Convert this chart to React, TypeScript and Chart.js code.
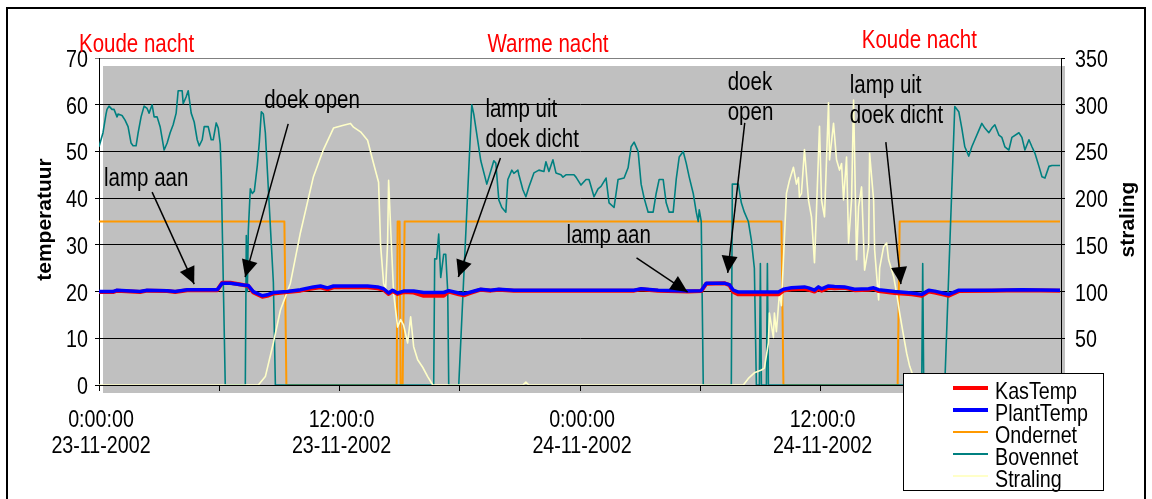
import React, { useEffect, useRef } from "react";
import { Chart, registerables } from "chart.js";

Chart.register(...registerables);

const FONT = "'Liberation Sans', Arial, sans-serif";
const NARROW = 0.82; // horizontal squeeze to mimic the condensed face of the original

// ---- time axis (hours since 0:00 23-11-2002) ----
const xTickHours = [0, 12, 24, 36];
const xTickTimes = ["0:00:00", "12:00:0", "0:00:00", "12:00:0"];
const xTickDates = ["23-11-2002", "23-11-2002", "24-11-2002", "24-11-2002"];

// ---- KasTemp / PlantTemp (°C) ----
const tempHours = [0, 0.7, 0.9, 2.05, 2.4, 3.4, 3.8, 4.4, 5.9, 6.15, 6.55, 7.2, 7.45, 7.7, 8.15, 8.4, 8.7, 9.4, 10.05, 10.7, 11.05, 11.4, 11.7, 13.4, 13.9, 14.2, 14.45, 14.65, 14.9, 15.2, 15.7, 16.2, 17.2, 17.45, 17.95, 18.2, 18.55, 19.05, 19.55, 19.95, 20.7, 22.7, 24.55, 26.7, 27.05, 27.9, 29.4, 30.05, 30.3, 31.2, 31.45, 31.65, 31.9, 33.9, 34.15, 34.55, 35.2, 35.4, 35.7, 35.9, 36.05, 36.4, 36.7, 37.2, 37.7, 38.4, 38.65, 38.9, 39.7, 40.55, 41.05, 41.4, 41.7, 42.2, 42.4, 42.9, 44.55, 46.05, 47.95];
const plantTemp = [20.0, 20.0, 20.3, 20.0, 20.3, 20.2, 20.0, 20.4, 20.4, 21.8, 21.8, 21.4, 21.3, 20.0, 19.1, 19.3, 19.8, 20.0, 20.4, 21.0, 21.2, 20.8, 21.2, 21.2, 21.0, 20.6, 19.7, 20.3, 19.7, 20.1, 20.1, 19.8, 19.8, 20.2, 19.7, 19.5, 19.9, 20.5, 20.3, 20.5, 20.3, 20.3, 20.3, 20.3, 20.6, 20.3, 20.1, 20.2, 21.8, 21.8, 21.5, 20.3, 19.9, 19.9, 20.5, 20.8, 21.0, 20.8, 20.3, 21.0, 20.6, 21.2, 21.1, 21.0, 20.5, 20.6, 20.8, 20.4, 20.0, 19.7, 19.4, 20.3, 20.1, 19.6, 19.4, 20.3, 20.3, 20.4, 20.3];
const kasTemp = [19.9, 19.9, 20.2, 19.9, 20.2, 20.1, 19.9, 20.3, 20.3, 21.9, 21.9, 21.4, 21.2, 19.8, 18.9, 19.1, 19.6, 19.9, 20.2, 20.7, 20.9, 20.5, 20.9, 20.9, 20.7, 20.4, 19.5, 20.1, 19.5, 19.9, 19.8, 19.1, 19.1, 20.0, 19.4, 19.2, 19.7, 20.4, 20.2, 20.4, 20.2, 20.2, 20.2, 20.2, 20.5, 20.2, 20.0, 20.1, 21.7, 21.8, 21.4, 19.9, 19.4, 19.4, 20.2, 20.5, 20.6, 20.4, 20.0, 20.6, 20.2, 20.8, 20.7, 20.8, 20.3, 20.4, 20.6, 20.1, 19.7, 19.4, 19.1, 20.0, 19.8, 19.3, 19.1, 20.1, 20.2, 20.3, 20.2];

// ---- Ondernet ----
const ondernetHours = [0, 9.25, 9.35, 14.85, 14.9, 15.0, 15.05, 15.15, 15.25, 34.05, 34.15, 39.85, 39.95, 47.95];
const ondernet = [35, 35, 0, 0, 35, 35, 0, 0, 35, 35, 0, 0, 35, 35];

// ---- Bovennet ----
const bovennetHours = [0, 0.2, 0.35, 0.4, 0.5, 0.65, 0.75, 0.9, 0.95, 1.15, 1.3, 1.45, 1.6, 1.7, 1.85, 1.95, 2.1, 2.25, 2.4, 2.5, 2.65, 2.75, 2.9, 3.05, 3.25, 3.4, 3.55, 3.7, 3.85, 3.95, 4.15, 4.2, 4.35, 4.45, 4.6, 4.75, 4.9, 5.0, 5.15, 5.25, 5.45, 5.6, 5.7, 5.85, 5.95, 6.05, 6.1, 6.3, 7.3, 7.35, 7.4, 7.45, 7.55, 7.65, 7.75, 7.9, 8.0, 8.1, 8.2, 8.3, 8.45, 8.6, 8.7, 8.8, 16.7, 16.75, 16.85, 16.95, 17.05, 17.2, 17.3, 17.4, 17.45, 17.95, 18.6, 18.7, 19.05, 19.35, 19.7, 19.8, 19.95, 20.1, 20.3, 20.4, 20.6, 20.7, 20.9, 20.95, 21.15, 21.3, 21.45, 21.7, 21.95, 22.2, 22.3, 22.45, 22.65, 22.8, 23.05, 23.15, 23.3, 23.7, 23.8, 24.05, 24.3, 24.45, 24.7, 24.9, 25.05, 25.3, 25.45, 25.7, 25.9, 26.2, 26.4, 26.55, 26.7, 26.9, 27.05, 27.2, 27.4, 27.65, 27.8, 27.95, 28.15, 28.3, 28.45, 28.65, 28.8, 28.95, 29.15, 29.3, 29.45, 29.65, 29.8, 29.9, 29.95, 30.05, 30.15, 31.55, 31.6, 31.9, 32.05, 32.2, 32.4, 32.55, 32.7, 32.8, 32.95, 33.0, 33.05, 33.3, 33.35, 33.4, 41.05, 41.1, 41.15, 42.2, 42.7, 42.9, 43.05, 43.2, 43.4, 43.55, 43.7, 43.9, 44.05, 44.2, 44.4, 44.55, 44.7, 44.9, 45.05, 45.2, 45.4, 45.55, 45.9, 46.05, 46.2, 46.4, 46.55, 46.7, 46.9, 47.05, 47.2, 47.4, 47.55, 47.95];
const bovennet = [51, 54, 58, 59, 59.7, 59, 59, 57.4, 58, 57.7, 56.7, 55.3, 51.8, 51.2, 51.2, 53.9, 57.4, 59.7, 59.2, 58.2, 60, 57.4, 57.4, 55.3, 50.3, 51.8, 54, 55.7, 58.2, 63, 63, 60.2, 61.7, 63, 58.2, 56.3, 52.5, 51.2, 52.5, 55.3, 55.3, 52.5, 52.5, 56.1, 55, 51.5, 45, 0, 0, 32, 20, 33, 42, 41, 41.5, 47, 52, 58.5, 58, 54, 42, 30, 22, 0, 0, 27, 27, 32.3, 23, 28, 28, 20, 0, 0, 60, 58, 48, 43, 48, 47.5, 39.6, 38, 37, 44, 46, 45.3, 46, 45, 41.8, 40.3, 42.4, 45.4, 46, 45.7, 47.8, 45.7, 48.2, 45.4, 45, 44.5, 45, 45, 44.5, 42.8, 44, 44, 40.3, 42, 42.5, 44.3, 39, 38, 44, 44.3, 46.5, 51, 52, 50, 43, 40, 37, 37, 41, 44, 44, 39, 37, 37, 44, 48.8, 50, 47.5, 44.5, 41, 37, 35, 37.5, 35, 0, 0, 43, 43, 39, 37, 35, 31, 25, 0, 0, 26, 0, 0, 26, 0, 0, 26, 0, 0, 59.6, 58.5, 55, 51, 49, 51, 52.5, 54.5, 56, 55, 54, 55, 55.7, 53.5, 53, 51, 50.3, 53, 54, 53, 50.3, 52.5, 51, 49.6, 46.8, 44.6, 44.3, 46.8, 47, 47];

// ---- Straling (right axis) ----
const stralingHours = [0, 7.95, 8.3, 8.7, 9.05, 9.55, 10.05, 10.45, 10.7, 11.2, 11.7, 12.2, 12.55, 12.7, 13.05, 13.4, 13.7, 13.95, 14.05, 14.2, 14.3, 14.4, 14.45, 14.55, 14.7, 14.9, 15.05, 15.2, 15.4, 15.55, 15.7, 15.9, 16.15, 16.4, 16.65, 21.15, 21.3, 21.45, 32.15, 32.4, 32.7, 33.05, 33.2, 33.4, 33.45, 33.65, 33.7, 33.8, 33.95, 34.05, 34.15, 34.3, 34.45, 34.65, 34.8, 34.9, 34.95, 35.05, 35.2, 35.4, 35.55, 35.7, 35.8, 35.95, 36.05, 36.2, 36.4, 36.45, 36.65, 36.8, 36.95, 37.05, 37.15, 37.3, 37.4, 37.55, 37.65, 37.8, 37.9, 38.05, 38.2, 38.4, 38.45, 38.65, 38.7, 38.9, 38.95, 39.15, 39.3, 39.4, 39.65, 39.8, 39.95, 40.15, 40.3, 40.45, 40.7, 40.95, 47.95];
const straling = [0, 0, 9, 45, 80, 109, 163, 200, 223, 252, 275, 278, 280, 276, 271, 262, 237, 217, 150, 109, 102, 152, 219, 169, 98, 62, 70, 64, 45, 73, 41, 27, 19, 9, 0, 0, 3, 0, 0, 7, 13, 16, 18, 45, 77, 51, 77, 57, 98, 85, 134, 205, 219, 233, 215, 222, 201, 205, 252, 198, 180, 131, 187, 277, 198, 180, 302, 241, 280, 241, 230, 237, 198, 244, 152, 198, 305, 134, 191, 212, 123, 148, 248, 198, 145, 91, 125, 148, 152, 134, 116, 98, 77, 52, 34, 20, 5, 0, 0];

// ---- text annotations (anchored in data coordinates: hours, °C) ----
const periodLabels = ["Koude nacht", "Warme nacht", "Koude nacht"];
const periodHours = [-1.0, 19.38, 38.06];
const periodTemps = [71.3, 71.3, 72.2];

const notes = [
  { lines: ["lamp aan"], h: 0.25, t: 42.6, from: [2.65, 41.3], to: [4.75, 21.6] },
  { lines: ["doek open"], h: 8.24, t: 59.3, from: [9.44, 55.9], to: [7.29, 23.1] },
  { lines: ["lamp uit", "doek dicht"], h: 19.28, t: 57.4, from: [20.03, 48.6], to: [17.93, 23.1] },
  { lines: ["lamp aan"], h: 23.33, t: 30.4, from: [26.82, 27.2], to: [29.37, 19.9] },
  { lines: ["doek", "open"], h: 31.37, t: 63.2, from: [32.22, 56.1], to: [31.37, 24.0] },
  { lines: ["lamp uit", "doek dicht"], h: 37.46, t: 62.5, from: [39.26, 52.0], to: [40.01, 21.6] },
];

const zip = (xs: number[], ys: number[]) => xs.map((x, i) => ({ x, y: ys[i] }));

function narrowText(ctx: CanvasRenderingContext2D, text: string, x: number, y: number, align: CanvasTextAlign, size: number, color = "#000") {
  ctx.save();
  ctx.translate(x, y);
  ctx.scale(NARROW, 1);
  ctx.font = `${size}px ${FONT}`;
  ctx.fillStyle = color;
  ctx.textAlign = align;
  ctx.textBaseline = "alphabetic";
  ctx.fillText(text, 0, 0);
  ctx.restore();
}

function drawArrow(ctx: CanvasRenderingContext2D, x1: number, y1: number, x2: number, y2: number) {
  ctx.beginPath();
  ctx.moveTo(x1, y1);
  ctx.lineTo(x2, y2);
  ctx.stroke();
  const a = Math.atan2(y2 - y1, x2 - x1);
  const L = 17, W = 8;
  const c = Math.cos(a), s = Math.sin(a);
  ctx.beginPath();
  ctx.moveTo(x2, y2);
  ctx.lineTo(x2 - L * c + W * s, y2 - L * s - W * c);
  ctx.lineTo(x2 - L * c - W * s, y2 - L * s + W * c);
  ctx.closePath();
  ctx.fill();
}

const decor = {
  id: "decor",
  beforeDraw(chart: any) {
    const { ctx, chartArea: a } = chart;
    ctx.save();
    ctx.fillStyle = "#ffffff";
    ctx.fillRect(0, 0, chart.width, chart.height);
    ctx.fillStyle = "#C0C0C0";
    ctx.fillRect(a.left + 4, a.top + 8, a.right - a.left, a.bottom - a.top);
    ctx.restore();
  },
  afterDraw(chart: any) {
    const { ctx, chartArea: a, scales } = chart;
    const xs = scales.x, ys = scales.y, ys2 = scales.y2;
    ctx.save();
    // outer frame
    ctx.strokeStyle = "#000";
    ctx.lineWidth = 2;
    ctx.strokeRect(7, 8, 1138, 600);

    // tick labels
    ys.ticks.forEach((t: any) => {
      narrowText(ctx, String(t.value), a.left - 11, ys.getPixelForValue(t.value) + 9, "right", 24);
    });
    ys2.ticks.forEach((t: any) => {
      narrowText(ctx, String(t.value), a.right + 14, ys2.getPixelForValue(t.value) + 9, "left", 24);
    });
    xTickHours.forEach((h, i) => {
      const px = xs.getPixelForValue(h) + 2;
      narrowText(ctx, xTickTimes[i], px, a.bottom + 42, "center", 24);
      narrowText(ctx, xTickDates[i], px, a.bottom + 68, "center", 24);
    });

    // period labels
    periodLabels.forEach((t, i) => {
      narrowText(ctx, t, xs.getPixelForValue(periodHours[i]), ys.getPixelForValue(periodTemps[i]), "left", 25, "#FF0000");
    });

    // axis titles
    ctx.fillStyle = "#000";
    ctx.font = `bold 21px ${FONT}`;
    ctx.textAlign = "center";
    ctx.textBaseline = "middle";
    const cy = (a.top + a.bottom) / 2 - 2;
    ctx.save();
    ctx.translate(a.left - 54, cy);
    ctx.rotate(-Math.PI / 2);
    ctx.fillText("temperatuur", 0, 0);
    ctx.restore();
    ctx.save();
    ctx.translate(a.right + 67, cy);
    ctx.rotate(-Math.PI / 2);
    ctx.fillText("straling", 0, 0);
    ctx.restore();

    // notes + arrows
    ctx.strokeStyle = "#000";
    ctx.fillStyle = "#000";
    ctx.lineWidth = 1.5;
    notes.forEach((n) => {
      const x = xs.getPixelForValue(n.h);
      const y = ys.getPixelForValue(n.t);
      n.lines.forEach((l, i) => narrowText(ctx, l, x, y + i * 30, "left", 25));
      drawArrow(
        ctx,
        xs.getPixelForValue(n.from[0]), ys.getPixelForValue(n.from[1]),
        xs.getPixelForValue(n.to[0]), ys.getPixelForValue(n.to[1])
      );
    });

    // legend
    const lx = 903, ly = 373, lw = 200, lh = 117;
    ctx.fillStyle = "#fff";
    ctx.fillRect(lx, ly, lw, lh);
    ctx.strokeStyle = "#000";
    ctx.lineWidth = 1;
    ctx.strokeRect(lx + 0.5, ly + 0.5, lw, lh);
    chart.data.datasets.forEach((ds: any, i: number) => {
      const base = ly + 26 + i * 22;
      ctx.strokeStyle = ds.borderColor;
      ctx.lineWidth = ds.borderWidth >= 3 ? 4 : 2;
      ctx.beginPath();
      ctx.moveTo(lx + 50, base - 11);
      ctx.lineTo(lx + 85, base - 11);
      ctx.stroke();
      narrowText(ctx, ds.label, lx + 92, base, "left", 24);
    });
    ctx.restore();
  },
};

export default function App() {
  const ref = useRef<HTMLCanvasElement | null>(null);
  useEffect(() => {
    if (!ref.current) return;
    const chart = new Chart(ref.current, {
      type: "line",
      data: {
        datasets: [
          { label: "KasTemp", data: zip(tempHours, kasTemp), borderColor: "#FF0000", borderWidth: 4, yAxisID: "y", order: 1 },
          { label: "PlantTemp", data: zip(tempHours, plantTemp), borderColor: "#0000FF", borderWidth: 3.5, yAxisID: "y", order: 0 },
          { label: "Ondernet", data: zip(ondernetHours, ondernet), borderColor: "#FF9900", borderWidth: 2, yAxisID: "y", order: 4 },
          { label: "Bovennet", data: zip(bovennetHours, bovennet), borderColor: "#008080", borderWidth: 1.6, yAxisID: "y", order: 3 },
          { label: "Straling", data: zip(stralingHours, straling), borderColor: "#FFFFC8", borderWidth: 1.6, yAxisID: "y2", order: 2 },
        ] as any,
      },
      options: {
        responsive: false,
        animation: false,
        devicePixelRatio: 1,
        layout: { padding: { top: 58, left: 0, right: 0, bottom: 0 } },
        plugins: { legend: { display: false }, tooltip: { enabled: false } },
        elements: { point: { radius: 0 }, line: { tension: 0, borderJoinStyle: "round" } },
        scales: {
          x: {
            type: "linear",
            min: 0,
            max: 48,
            afterFit(s: any) { s.height = 114; },
            ticks: { stepSize: 6, autoSkip: false, display: false },
            grid: { drawOnChartArea: false, drawTicks: true, tickLength: 6, color: "#000" },
            border: { color: "#000", width: 1 },
          },
          y: {
            position: "left",
            min: 0,
            max: 70,
            afterFit(s: any) { s.width = 99; },
            ticks: { stepSize: 10, display: false },
            grid: { color: (c: any) => (c.tick && c.tick.value === 70 ? "#808080" : "#000"), tickLength: 4 },
            border: { color: "#000", width: 1 },
          },
          y2: {
            position: "right",
            min: 0,
            max: 350,
            afterFit(s: any) { s.width = 91; },
            ticks: { stepSize: 50, display: false },
            grid: { drawOnChartArea: false, tickLength: 4, color: "#000" },
            border: { color: "#000", width: 1 },
          },
        },
      } as any,
      plugins: [decor],
    });
    return () => chart.destroy();
  }, []);
  return (
    <div style={{ position: "fixed", left: 0, top: 0, width: 1152, height: 499, background: "#fff" }}>
      <canvas ref={ref} width={1152} height={499} style={{ display: "block" }} />
    </div>
  );
}
